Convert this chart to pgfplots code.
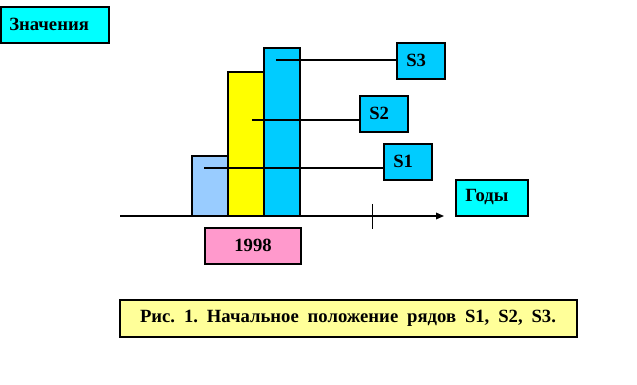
\documentclass[border=0pt]{standalone}
\usepackage{fontspec}
\setmainfont{Liberation Serif}
\usepackage{pgfplots}
\pgfplotsset{compat=1.18}
\usetikzlibrary{arrows.meta}
\definecolor{cyanbox}{HTML}{00FFFF}
\definecolor{sbox}{HTML}{00CCFF}
\definecolor{sonebar}{HTML}{99CCFF}
\definecolor{yel}{HTML}{FFFF00}
\definecolor{pinkbox}{HTML}{FF99CC}
\definecolor{capbox}{HTML}{FFFF99}
\frenchspacing
\begin{document}
\begin{tikzpicture}[font=\bfseries\fontsize{14}{16}\selectfont]
\begin{axis}[
  scale only axis, width=477.75pt, height=288.75pt,
  xmin=0, xmax=637, ymin=-169, ymax=216,
  hide axis, clip=false,
]
\path (rel axis cs:0,0) rectangle (rel axis cs:1,1);
% bars
\addplot[ybar, bar width=36, bar shift=0pt, fill=sonebar, draw=black, line width=1pt] coordinates {(210,60)};
\addplot[ybar, bar width=36, bar shift=0pt, fill=yel, draw=black, line width=1pt] coordinates {(246,144)};
\addplot[ybar, bar width=36, bar shift=0pt, fill=sbox, draw=black, line width=1pt] coordinates {(282,168)};
% x axis
\draw[line width=0.9pt, -{Triangle[length=6pt,width=5pt]}] (axis cs:120,0) -- (axis cs:444,0);
\draw[line width=0.75pt] (axis cs:372,12) -- (axis cs:372,-13);
% leader lines
\draw[line width=0.9pt] (axis cs:204,48) -- (axis cs:384,48);
\draw[line width=0.9pt] (axis cs:252,96) -- (axis cs:360,96);
\draw[line width=0.9pt] (axis cs:276,156) -- (axis cs:397,156);
% boxes
\draw[fill=cyanbox, line width=0.9pt] (axis cs:1,209) rectangle (axis cs:109,173);
\node[anchor=west, inner sep=0pt] at (axis cs:9,192) {Значения};
\draw[fill=sbox, line width=0.9pt] (axis cs:397,173) rectangle (axis cs:445,137);
\node[anchor=west, inner sep=0pt] at (axis cs:406,156) {S3};
\draw[fill=sbox, line width=0.9pt] (axis cs:360,120) rectangle (axis cs:408,84);
\node[anchor=west, inner sep=0pt] at (axis cs:369,103) {S2};
\draw[fill=sbox, line width=0.9pt] (axis cs:384,72) rectangle (axis cs:432,36);
\node[anchor=west, inner sep=0pt] at (axis cs:393,55) {S1};
\draw[fill=cyanbox, line width=0.9pt] (axis cs:456,36) rectangle (axis cs:528,0);
\node[anchor=west, inner sep=0pt] at (axis cs:465,19) {Годы};
\draw[fill=pinkbox, line width=0.9pt] (axis cs:205,-12) rectangle (axis cs:301,-48);
\node[inner sep=0pt] at (axis cs:253,-29) {1998};
\draw[fill=capbox, line width=0.9pt] (axis cs:120,-84) rectangle (axis cs:577,-121);
\node[inner sep=0pt] at (axis cs:348,-102) {\makebox[312pt][s]{Рис. 1. Начальное положение рядов S1, S2, S3.}};
\end{axis}
\end{tikzpicture}
\end{document}
